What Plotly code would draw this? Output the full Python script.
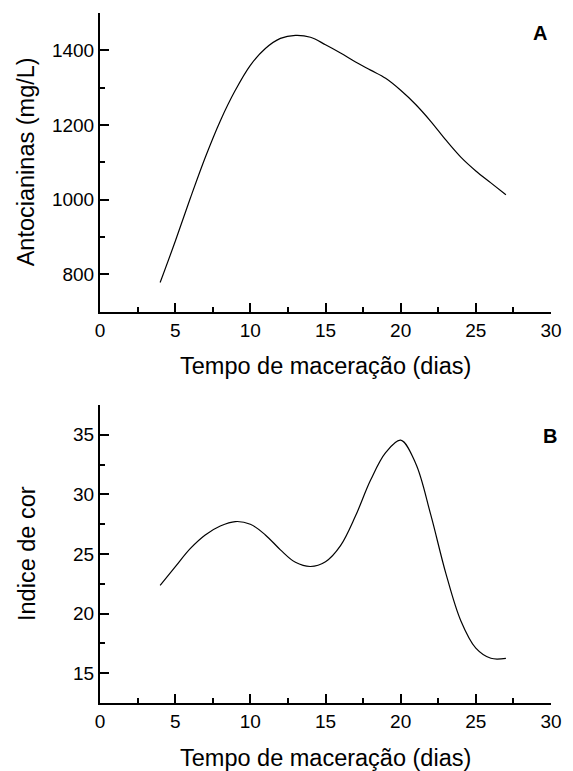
import plotly.graph_objects as go
from plotly.subplots import make_subplots

# Maceration time (days)
dias = [4, 5, 6, 7, 8, 9, 10, 11, 12, 13, 14, 15, 16, 17, 18, 19, 20, 21, 22, 23, 24, 25, 26, 27]

# Panel A: anthocyanins (mg/L)
antocianinas = [778, 888, 1003, 1113, 1211, 1293, 1360, 1405, 1432, 1440, 1435, 1415,
                1393, 1369, 1347, 1325, 1293, 1255, 1210, 1160, 1114, 1077, 1045, 1013]

# Panel B: colour index
indice_cor = [22.36, 23.92, 25.45, 26.6, 27.35, 27.72, 27.5, 26.6, 25.35, 24.3, 23.95, 24.35,
              25.7, 28.2, 31.2, 33.5, 34.55, 32.6, 28.3, 23.4, 19.4, 17.1, 16.25, 16.25]

x_title = "Tempo de maceração (dias)"
y_title_a = "Antocianinas (mg/L)"
y_title_b = "Indice de cor"

FONT = "Liberation Sans, Arial, Helvetica, sans-serif"

fig = make_subplots(rows=2, cols=1, vertical_spacing=0.1)

line_style = dict(color="black", width=1.2, shape="spline", smoothing=1.0)
fig.add_trace(go.Scatter(x=dias, y=antocianinas, mode="lines", line=line_style,
                         showlegend=False), row=1, col=1)
fig.add_trace(go.Scatter(x=dias, y=indice_cor, mode="lines", line=line_style,
                         showlegend=False), row=2, col=1)

axis_common = dict(
    showline=True, linecolor="black", linewidth=2,
    ticks="inside", ticklen=9, tickwidth=1.5, tickcolor="black",
    showgrid=False, zeroline=False, mirror=False,
    tickfont=dict(family=FONT, size=19, color="black"),
)
minor_common = dict(ticks="inside", ticklen=5, tickwidth=1.5, tickcolor="black", showgrid=False)

xaxis_cfg = dict(axis_common, range=[0, 30], tickmode="linear", tick0=0, dtick=5,
                 minor=dict(minor_common, dtick=2.5))

fig.update_layout(
    width=573, height=771,
    margin=dict(l=100, r=11, t=13, b=68),
    paper_bgcolor="white", plot_bgcolor="white",
    font=dict(family=FONT, color="black"),
    xaxis=dict(xaxis_cfg, domain=[0, 1], anchor="y"),
    yaxis=dict(axis_common, range=[700, 1500], tickvals=[800, 1000, 1200, 1400],
               minor=dict(minor_common, dtick=100, tick0=700),
               domain=[0.5671, 1.0], anchor="x"),
    xaxis2=dict(xaxis_cfg, domain=[0, 1], anchor="y2"),
    yaxis2=dict(axis_common, range=[12.5, 37.5], tickvals=[15, 20, 25, 30, 35],
                minor=dict(minor_common, dtick=2.5, tick0=12.5),
                domain=[0.0, 0.4319], anchor="x2"),
)

title_font = dict(family=FONT, size=23.5, color="black")
annotations = [
    dict(text=x_title, x=0.5, y=0.5671, xref="paper", yref="paper",
         xanchor="center", yanchor="middle", yshift=-54, showarrow=False, font=title_font),
    dict(text=x_title, x=0.5, y=0.0, xref="paper", yref="paper",
         xanchor="center", yanchor="middle", yshift=-55, showarrow=False, font=title_font),
    dict(text=y_title_a, x=0.0, y=(0.5671 + 1.0) / 2, xref="paper", yref="paper",
         xanchor="center", yanchor="middle", xshift=-74, textangle=-90,
         showarrow=False, font=title_font),
    dict(text=y_title_b, x=0.0, y=0.4319 / 2, xref="paper", yref="paper",
         xanchor="center", yanchor="middle", xshift=-73, textangle=-90,
         showarrow=False, font=title_font),
    dict(text="<b>A</b>", x=1.0, y=1.0, xref="paper", yref="paper",
         xanchor="center", yanchor="middle", xshift=-11, yshift=-20,
         showarrow=False, font=dict(family=FONT, size=20, color="black")),
    dict(text="<b>B</b>", x=1.0, y=0.4319, xref="paper", yref="paper",
         xanchor="center", yanchor="middle", xshift=-1, yshift=-31,
         showarrow=False, font=dict(family=FONT, size=20, color="black")),
]
fig.update_layout(annotations=annotations)

fig.write_html("out.html")
